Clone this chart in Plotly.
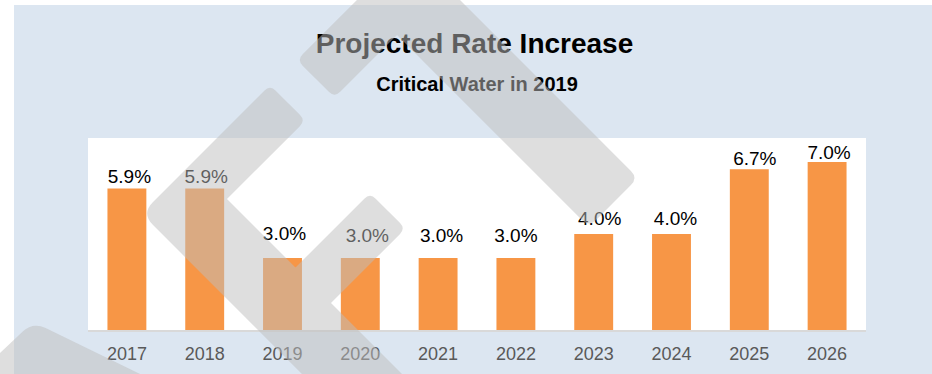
import math
import plotly.graph_objects as go

# ---- data ----
years = ["2017", "2018", "2019", "2020", "2021", "2022", "2023", "2024", "2025", "2026"]
rates = [5.9, 5.9, 3.0, 3.0, 3.0, 3.0, 4.0, 4.0, 6.7, 7.0]
rate_labels = [f"{v:.1f}%" for v in rates]

title_lines = ["Projected Rate Increase", "Critical Water in 2019"]

# ---- page geometry (pixels) ----
W, H = 932, 374
PLOT_L, PLOT_R, PLOT_T, PLOT_B = 88, 866, 138, 330
Y_MAX = 8
PX_PER_UNIT = (PLOT_B - PLOT_T) / Y_MAX
PX_PER_SLOT = (PLOT_R - PLOT_L) / len(years)
# hand placement of each value label relative to its bar (pixels: right, up)
label_dx_px = [2.5, 1.5, 2, 7, 3.5, 0, 6, 4, 5.5, 2]
label_gap_px = [10, 10, 23, 21, 21, 21, 14, 14, 9, 8]

FONT = "Liberation Sans, Arial, sans-serif"
ORANGE = "#F79646"
PANEL = "#DCE6F1"


def px(x, y):
    """pixel position -> paper coordinates"""
    return x / W, 1 - y / H


def rounded_path(pts, radii):
    """closed polygon with quadratic-rounded corners, as an SVG path in paper units"""
    area = sum(pts[i - 1][0] * pts[i][1] - pts[i][0] * pts[i - 1][1] for i in range(len(pts)))
    if area < 0:
        pts, radii = pts[::-1], radii[::-1]
    n = len(pts)
    corners = []
    for i in range(n):
        p, r = pts[i], radii[i]
        prev, nxt = pts[i - 1], pts[(i + 1) % n]
        if r <= 0:
            corners.append((p, p, p))
            continue
        d1 = math.dist(p, prev)
        d2 = math.dist(p, nxt)
        t1, t2 = min(r / d1, 0.5), min(r / d2, 0.5)
        a = (p[0] + (prev[0] - p[0]) * t1, p[1] + (prev[1] - p[1]) * t1)
        b = (p[0] + (nxt[0] - p[0]) * t2, p[1] + (nxt[1] - p[1]) * t2)
        corners.append((a, p, b))

    def f(q):
        x, y = px(*q)
        return f"{x:.5f},{y:.5f}"

    d = f"M {f(corners[0][2])}"
    for i in range(1, n + 1):
        a, p, b = corners[i % n]
        d += f" L {f(a)} Q {f(p)} {f(b)}"
    return d + " Z"


# watermark chevrons (pixel outlines, corner radii)
chevrons = [
    ([(297, 60), (408.5, -51.5), (638, 178), (589, 227), (397, 35), (334.5, 97.5)],
     [8, 15, 10, 10, 0, 8]),
    ([(270, 85), (141.5, 213.5), (348, 420), (448, 420), (227, 199), (305.5, 120.5)],
     [8, 16, 0, 0, 0, 8]),
    ([(370, 193), (245.5, 317.5), (348, 420), (448, 420), (331, 303), (405.5, 228.5)],
     [8, 0, 0, 0, 0, 8]),
    ([(-20, 371.6), (33, 322), (173, 390), (-20, 390)],
     [0, 14, 0, 0]),
]
watermark = " ".join(rounded_path(p, r) for p, r in chevrons)

slots = list(range(len(years)))

fig = go.Figure()

fig.add_trace(go.Bar(
    x=slots, y=rates,
    marker=dict(color=ORANGE, line=dict(width=0)),
    hoverinfo="skip",
))

# value labels sit a little above each bar
fig.add_trace(go.Scatter(
    x=[i + dx / PX_PER_SLOT for i, dx in zip(slots, label_dx_px)],
    y=[v + g / PX_PER_UNIT for v, g in zip(rates, label_gap_px)],
    text=rate_labels, mode="text", textposition="middle center",
    textfont=dict(family=FONT, size=19, color="#000000"),
    cliponaxis=False, hoverinfo="skip", showlegend=False,
))

# heading drawn as text marks on a full-page helper axis
fig.add_trace(go.Scatter(
    x=[474.5, 477], y=[46, 86],
    text=[f"<b>{t}</b>" for t in title_lines],
    mode="text", textposition="middle center",
    textfont=dict(family=FONT, size=[28, 20], color="#000000"),
    xaxis="x2", yaxis="y2", hoverinfo="skip", showlegend=False,
))

x0, y1 = px(14, 5)
pl, pt = px(PLOT_L, PLOT_T)
pr, pb = px(PLOT_R, PLOT_B)

fig.update_layout(
    width=W, height=H,
    margin=dict(l=0, r=0, t=0, b=0),
    paper_bgcolor="white", plot_bgcolor="rgba(0,0,0,0)",
    showlegend=False, bargap=0.5,
    font=dict(family=FONT),
    xaxis=dict(
        domain=[PLOT_L / W, PLOT_R / W], anchor="y",
        range=[-0.5, len(years) - 0.5], tickmode="array",
        tickvals=slots, ticktext=years,
        showline=True, linecolor="#D9D9D9", linewidth=2,
        ticks="", showgrid=False, zeroline=False, ticklabelstandoff=6,
        tickfont=dict(family=FONT, size=18, color="#595959"),
    ),
    yaxis=dict(
        domain=[1 - PLOT_B / H, 1 - PLOT_T / H], anchor="x",
        range=[0, Y_MAX], visible=False, showgrid=False, zeroline=False,
    ),
    xaxis2=dict(domain=[0, 1], range=[0, W], visible=False, anchor="y2", fixedrange=True),
    yaxis2=dict(domain=[0, 1], range=[H, 0], visible=False, anchor="x2", fixedrange=True),
    shapes=[
        dict(type="rect", xref="paper", yref="paper", x0=x0, x1=1, y0=0, y1=y1,
             fillcolor=PANEL, line=dict(width=0), layer="below"),
        dict(type="rect", xref="paper", yref="paper", x0=pl, x1=pr, y0=pb, y1=pt,
             fillcolor="white", line=dict(width=0), layer="below"),
        dict(type="path", xref="paper", yref="paper", path=watermark,
             fillcolor="rgba(190,190,190,0.5)", line=dict(width=0),
             fillrule="nonzero", layer="above"),
    ],
)

fig.write_html("out.html")
